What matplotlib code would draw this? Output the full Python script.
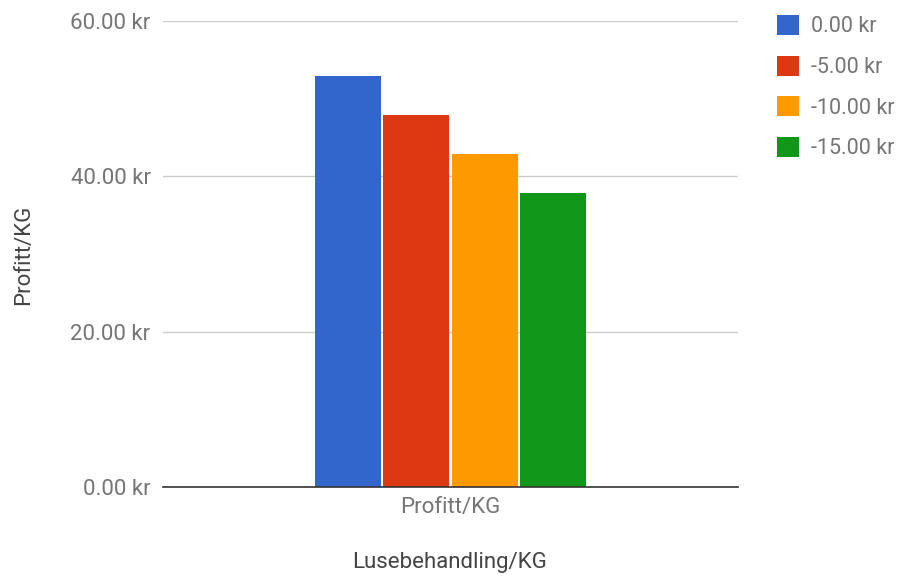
import matplotlib
matplotlib.use("Agg")
import matplotlib.pyplot as plt
import numpy as np

plt.rcParams['font.family'] = ['Roboto', 'DejaVu Sans']

category = ["Profitt/KG"]
series_labels = ["0.00 kr", "-5.00 kr", "-10.00 kr", "-15.00 kr"]
series_values = [52.9, 47.9, 42.9, 37.9]
colors = ["#3366CC", "#DC3912", "#FF9900", "#109618"]
y_ticks = [0, 20, 40, 60]
y_tick_labels = ["0.00 kr", "20.00 kr", "40.00 kr", "60.00 kr"]

FS = 16

fig = plt.figure(figsize=(9.06, 5.81), dpi=100)
ax = fig.add_axes([0.18, 0.1618, 0.6346, 0.8021])

n = len(series_values)
group_width = 0.4765
bar_w = group_width / n
x0 = 0 - group_width / 2 + bar_w / 2
handles = []
for i, (v, c, lab) in enumerate(zip(series_values, colors, series_labels)):
    h = ax.bar(x0 + i * bar_w, v, width=bar_w - 0.004, color=c, label=lab,
               zorder=3, linewidth=0)
    handles.append(h)

ax.set_xlim(-0.5, 0.5)
ax.set_ylim(0, 60)
ax.set_yticks(y_ticks)
ax.set_yticklabels(y_tick_labels)
ax.set_xticks([0])
ax.set_xticklabels(category)
ax.tick_params(axis='both', length=0, labelsize=FS, colors='#757575')
ax.tick_params(axis='y', pad=9)
ax.tick_params(axis='x', pad=7)

for s in ['top', 'right', 'left']:
    ax.spines[s].set_visible(False)
ax.spines['bottom'].set_color('#333333')
ax.spines['bottom'].set_linewidth(1.2)
ax.spines['bottom'].set_zorder(4)
ax.yaxis.grid(True, color='#cccccc', linewidth=1, zorder=0)
ax.set_axisbelow(True)

ax.set_ylabel("Profitt/KG", fontsize=FS, color='#444444', va='center', ha='center')
ax.yaxis.set_label_coords(-0.242, 0.498)
ax.set_xlabel("Lusebehandling/KG", fontsize=FS, color='#444444', va='center', ha='center')
ax.xaxis.set_label_coords(0.499, -0.163)

leg = fig.legend(handles=handles, labels=series_labels, loc='upper left',
                 bbox_to_anchor=(0.8405, 1.0), frameon=False, fontsize=15.5,
                 handlelength=1.05, handleheight=1.05, handletextpad=0.55,
                 labelspacing=0.85, labelcolor='#757575', borderaxespad=0.3)

fig.savefig("out.png", dpi=100)
